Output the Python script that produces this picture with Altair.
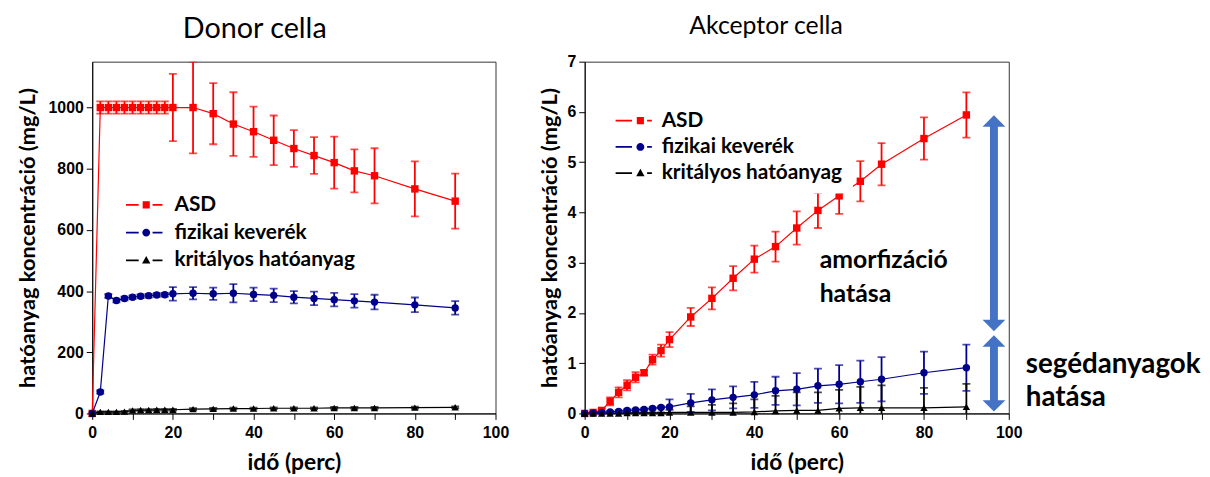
import altair as alt
import pandas as pd

# ---------------- data ----------------
t = [0, 2, 4, 6, 8, 10, 12, 14, 16, 18, 20, 25, 30, 35, 40, 45, 50, 55, 60, 65, 70, 80, 90]
SERIES = ["ASD", "fizikai keverék", "kritályos hatóanyag"]
COLORS = ["#ff0000", "#00008b", "#000000"]
SHAPES = ["square", "circle", "triangle-up"]

# Donor cella (mg/L)
donor_asd = [0, 1000, 1000, 1000, 1000, 1000, 1000, 1000, 1000, 1000, 1000, 1000, 980, 946, 921, 893, 866, 843, 820, 793, 777, 734, 694]
donor_asd_err = [0, 20, 20, 20, 20, 20, 20, 20, 20, 20, 110, 150, 100, 104, 82, 81, 60, 60, 85, 70, 90, 90, 90]
donor_fiz = [0, 70, 384, 369, 376, 380, 383, 385, 387, 388, 391, 393, 391, 393, 389, 386, 380, 376, 372, 368, 364, 355, 345]
donor_fiz_err = [0, 5, 6, 6, 6, 6, 6, 6, 6, 6, 22, 20, 20, 30, 22, 22, 20, 22, 22, 22, 24, 24, 22]
donor_krit = [0, 5, 5, 5, 6, 10, 11, 11, 12, 12, 12, 14, 15, 16, 16, 17, 17, 17, 18, 18, 18, 19, 20]
donor_krit_err = [0, 2, 2, 2, 2, 3, 3, 3, 3, 3, 3, 3, 3, 3, 3, 3, 3, 3, 3, 3, 3, 3, 3]

# Akceptor cella (mg/L)
akc_asd = [0, 0.02, 0.06, 0.24, 0.42, 0.56, 0.72, 0.81, 1.07, 1.25, 1.47, 1.92, 2.29, 2.69, 3.07, 3.32, 3.69, 4.04, 4.33, 4.62, 4.96, 5.47, 5.94]
akc_asd_err = [0.01, 0.02, 0.04, 0.08, 0.1, 0.1, 0.1, 0.05, 0.1, 0.12, 0.15, 0.18, 0.22, 0.24, 0.27, 0.3, 0.33, 0.35, 0.36, 0.4, 0.42, 0.42, 0.45]
akc_fiz = [0, 0.01, 0.02, 0.03, 0.04, 0.06, 0.07, 0.08, 0.1, 0.12, 0.13, 0.21, 0.27, 0.32, 0.37, 0.45, 0.48, 0.55, 0.58, 0.63, 0.68, 0.81, 0.91]
akc_fiz_err = [0, 0.02, 0.02, 0.02, 0.02, 0.02, 0.02, 0.02, 0.02, 0.02, 0.15, 0.18, 0.21, 0.22, 0.26, 0.28, 0.32, 0.34, 0.38, 0.42, 0.44, 0.42, 0.46]
akc_krit = [0, 0, 0, 0, 0, 0.01, 0.01, 0.01, 0.01, 0.01, 0.02, 0.02, 0.02, 0.02, 0.03, 0.05, 0.06, 0.06, 0.1, 0.11, 0.11, 0.11, 0.13]
akc_krit_err = [0, 0.01, 0.01, 0.01, 0.01, 0.01, 0.01, 0.01, 0.01, 0.01, 0.05, 0.12, 0.15, 0.18, 0.25, 0.3, 0.36, 0.36, 0.37, 0.42, 0.45, 0.4, 0.46]

# annotations on the Akceptor panel
arrow_x = [96.5, 96.5]
arrow_top = [5.82, 1.44]
arrow_bot = [1.75, 0.15]
note1_x = [55.4, 55.4]
note1_y = [3.06, 2.38]
note1_text = ["amorfizáció", "hatása"]
note2_x = [104, 104]
note2_y = [0.97, 0.31]
note2_text = ["segédanyagok", "hatása"]


def long_table(values, errors):
    rows = []
    for name, v, e in zip(SERIES, values, errors):
        for ti, vi, ei in zip(t, v, e):
            rows.append({"t": ti, "series": name, "v": vi, "lo": vi - ei, "hi": vi + ei})
    return pd.DataFrame(rows)


donor_df = long_table([donor_asd, donor_fiz, donor_krit], [donor_asd_err, donor_fiz_err, donor_krit_err])
akc_df = long_table([akc_asd, akc_fiz, akc_krit], [akc_asd_err, akc_fiz_err, akc_krit_err])


def legend_paths(line_l, line_r, dash_l, dash_r):
    lp = f"M{line_l},-0.2H{line_r}V0.2H{line_l}Z"
    dp = f"M{dash_l},-0.2H{dash_r}V0.2H{dash_l}Z"
    sq = "M-0.9,-0.9H0.9V0.9H-0.9Z"
    ci = "M-1,0A1,1 0 1,0 1,0A1,1 0 1,0 -1,0Z"
    tr = "M0,-1.1L1.05,0.8L-1.05,0.8Z"
    return [lp + sq + dp, lp + ci + dp, lp + tr + dp]


def make_legend(x, y, label_size, label_offset, row_pad, fill=None, pad=0):
    kw = dict(
        orient="none", legendX=x, legendY=y, title=None, symbolSize=64,
        symbolStrokeWidth=0, labelFont="Lato", labelFontWeight="bold",
        labelFontSize=label_size, labelColor="black", labelOffset=label_offset,
        labelLimit=500, rowPadding=row_pad, padding=pad, symbolOpacity=1,
    )
    if fill:
        kw["fillColor"] = fill
    return alt.Legend(**kw)


def panel(df, ymax, yvals, ystep_label, width, title, title_size, title_dx, title_offset, legend, paths,
          label_size, y_title_pad, extra=None):
    xs = alt.Scale(domain=[0, 100], nice=False)
    ys = alt.Scale(domain=[0, ymax], nice=False, zero=True)
    x_axis = alt.Axis(values=list(range(0, 101, 10)), title="idő (perc)",
                      labelExpr="datum.value % 20 == 0 ? format(datum.value, 'd') : ''")
    y_axis = alt.Axis(values=yvals, title="hatóanyag koncentráció (mg/L)", labelFontSize=label_size,
                      titlePadding=y_title_pad,
                      labelExpr=f"datum.value % {ystep_label} == 0 ? format(datum.value, 'd') : ''")
    stroke = alt.Stroke("series:N", scale=alt.Scale(domain=SERIES, range=COLORS), legend=None)
    fill = alt.Fill("series:N", scale=alt.Scale(domain=SERIES, range=COLORS), legend=None)
    base = alt.Chart(df)
    X = alt.X("t:Q", scale=xs, axis=x_axis)
    Y = alt.Y("v:Q", scale=ys, axis=y_axis)
    # legend-only layer (no rows drawn, entries come from the fixed domains)
    leg = base.transform_filter("false").mark_point(filled=True, opacity=1, strokeWidth=0).encode(
        x=X, y=Y,
        color=alt.Color("series:N", scale=alt.Scale(domain=SERIES, range=COLORS), legend=legend),
        shape=alt.Shape("series:N", scale=alt.Scale(domain=SERIES, range=paths), legend=legend),
    )
    lines = base.mark_line(strokeWidth=1.2).encode(x=X, y=Y, stroke=stroke)
    rules = base.mark_rule(strokeWidth=1.8, clip=True).encode(x="t:Q", y="lo:Q", y2="hi:Q", stroke=stroke)
    cap_lo = base.mark_tick(orient="horizontal", size=8, thickness=1.8, clip=True).encode(x="t:Q", y="lo:Q", fill=fill)
    cap_hi = base.mark_tick(orient="horizontal", size=8, thickness=1.8, clip=True).encode(x="t:Q", y="hi:Q", fill=fill)
    layers = [leg, lines, rules, cap_lo, cap_hi]
    for name, shp in zip(SERIES, SHAPES):
        layers.append(
            base.transform_filter(alt.datum.series == name)
            .mark_point(filled=True, opacity=1, size=56, strokeWidth=0, shape=shp)
            .encode(x="t:Q", y="v:Q", fill=fill)
        )
    if extra:
        layers += extra
    return alt.layer(*layers).properties(
        width=width, height=355,
        title=alt.TitleParams(title, dx=title_dx, offset=title_offset, fontSize=title_size,
                              font="Lato", fontWeight="normal", anchor="middle", color="black"),
    )


left_legend = make_legend(44, 134, 21, 18, 6)
right_legend = make_legend(35.7, 39, 21, 11, 4.5, fill="white", pad=10)

arrow_df = pd.DataFrame({"x": arrow_x, "top": arrow_top, "bot": arrow_bot})
note1_df = pd.DataFrame({"x": note1_x, "y": note1_y, "text": note1_text})
note2_df = pd.DataFrame({"x": note2_x, "y": note2_y, "text": note2_text})
ARROW = "#4472c4"
shaft = alt.Chart(arrow_df).mark_rule(strokeWidth=8, color=ARROW).encode(x="x:Q", y="top:Q", y2="bot:Q")
head_up = alt.Chart(arrow_df).mark_point(shape="M0,-0.5L1,0.5L-1,0.5Z", size=529, filled=True,
                                         opacity=1, color=ARROW, strokeWidth=0).encode(x="x:Q", y="top:Q")
head_dn = alt.Chart(arrow_df).mark_point(shape="M0,0.5L1,-0.5L-1,-0.5Z", size=529, filled=True,
                                         opacity=1, color=ARROW, strokeWidth=0).encode(x="x:Q", y="bot:Q")
notes1 = alt.Chart(note1_df).mark_text(align="left", baseline="middle", font="Lato", fontWeight="bold",
                                       fontSize=25, color="black").encode(x="x:Q", y="y:Q", text="text:N")
notes2 = alt.Chart(note2_df).mark_text(align="left", baseline="middle", font="Lato", fontWeight="bold",
                                       fontSize=28, color="black").encode(x="x:Q", y="y:Q", text="text:N")

left = panel(donor_df, 1150, list(range(0, 1101, 100)), 200, 407, "Donor cella", 29, -39.5, 18,
             left_legend, legend_paths(-5.1, -1.9, 1.6, 4.1), 16, 9)
right = panel(akc_df, 7, [i * 0.5 for i in range(15)], 1, 428, "Akceptor cella", 25, -31, 15,
              right_legend, legend_paths(-6.25, -2.1, 1.7, 2.9), 16, 6,
              extra=[shaft, head_up, head_dn, notes1, notes2])

chart = alt.hconcat(left, right, spacing=90, bounds="flush").resolve_scale(
    color="independent", shape="independent", fill="independent", stroke="independent",
    x="independent", y="independent"
).configure(padding={"left": 7, "top": 3, "right": 0, "bottom": 0}, background="white").configure_view(
    stroke="#333333", strokeWidth=1
).configure_axis(
    grid=False, domainColor="black", tickColor="black", tickSize=6, labelFont="Liberation Sans",
    labelFontWeight="bold", labelFontSize=16, labelColor="black", labelPadding=3, labelFlush=False,
    titleFont="Lato", titleFontWeight="bold", titleFontSize=22, titleColor="black", titlePadding=9,
).configure_axisX(labelPadding=5, titlePadding=12, titleFontSize=23)

chart.save("out.html", embed_options={"renderer": "svg", "actions": False})
